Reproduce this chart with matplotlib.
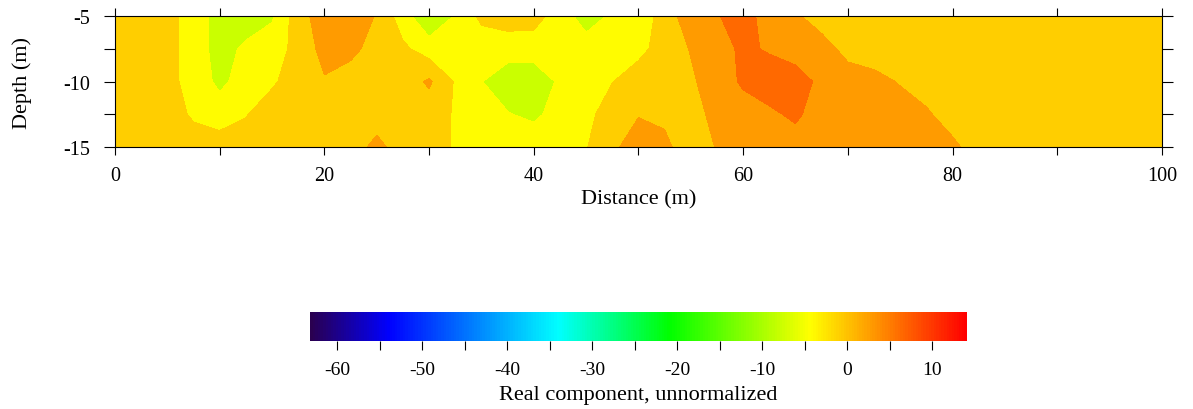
import matplotlib
matplotlib.use("Agg")

import matplotlib.pyplot as plt
import numpy as np
from matplotlib.colors import LinearSegmentedColormap, Normalize
from matplotlib.cm import ScalarMappable
from matplotlib.ticker import MultipleLocator

# grid nodes (m)
distance = np.arange(0, 100.1, 2.5)
depth = [-5, -7.5, -10, -12.5, -15]

# real component on the grid, one row per depth
row_5 = [-0.75, -0.75, -1.3, -4.0, -7.5, -8.0, -6.5, -0.5, 2.9, 2.75,
         0.8, -4.5, -9.0, -5.8, -1.7, -0.75, -1.0, -4.4, -7.5, -5.5,
         -4.0, -1.5, 3.7, 4.2, 6.5, 2.3, 1.5] + [-0.75] * 14
row_7_5 = [-0.75, -0.75, -1.3, -4.0, -7.5, -5.3, -4.0, -1.5, 2.2, 2.0,
           -0.5, -1.8, -4.25, -4.25, -4.5, -4.5, -4.5, -4.5, -4.5, -4.25,
           -3.5, -1.0, 1.2, 3.0, 5.2, 4.1, 3.0, 2.5, -0.2] + [-0.75] * 12
row_10 = [-0.75, -0.75, -1.3, -4.0, -6.8, -4.5, -3.0, -0.75, 0.7, -0.75,
          -0.75, -0.75, 1.5, -2.85, -5.9, -8.0, -8.0, -5.5, -4.25, -2.6,
          -0.75, -0.75, 0.5, 2.75, 5.0, 6.5, 6.0, 3.7, 2.75, 2.0,
          0.75] + [-0.75] * 10
row_12_5 = [-0.75, -0.75, -0.75, -3.05, -4.25, -2.7, -0.75, -0.75, -0.75, -0.75,
            -0.75, -0.75, -0.75, -2.85, -4.25, -5.8, -6.8, -4.5, -3.5, -0.75,
            0.8, 0.3, -0.3, 2.0, 3.0, 3.8, 5.2, 2.5, 2.75, 2.75,
            2.5, 1.5] + [-0.75] * 9
row_15 = [-0.75] * 10 + [2.0, -0.75, -0.75, -2.85, -4.25, -4.0, -3.5, -4.0, -2.7, 0.3,
                         2.75, 1.8, -1.0, 1.2] + [2.75] * 8 + [1.8] + [-0.75] * 8

values = np.array([row_5, row_7_5, row_10, row_12_5, row_15])
levels = [-9.5, -6, -2.5, 1, 4.5, 8.5]

# colour scale
cbar_min, cbar_max = -63.2, 14.1
stop_values = [-63.2, -54, -34, -20.9, -4.3, 14.1]
stop_colors = ["#2a0050", "#0000ff", "#00ffff", "#00ff00", "#ffff00", "#ff0000"]
cbar_ticks = [-60, -50, -40, -30, -20, -10, 0, 10]

plt.rcParams["font.family"] = ["Liberation Serif", "DejaVu Serif"]
plt.rcParams["axes.unicode_minus"] = False

positions = [(v - cbar_min) / (cbar_max - cbar_min) for v in stop_values]
cmap = LinearSegmentedColormap.from_list("surfer", list(zip(positions, stop_colors)))
norm = Normalize(cbar_min, cbar_max)

fig = plt.figure(figsize=(11.93, 4.10), dpi=100)
ax = fig.add_axes([0.0964, 0.639, 0.8776, 0.3195])
ax.contourf(distance, depth, values, levels=levels, cmap=cmap, norm=norm)
ax.set_xlim(0, 100)
ax.set_ylim(-15, -5)
ax.xaxis.set_major_locator(MultipleLocator(20))
ax.xaxis.set_minor_locator(MultipleLocator(10))
ax.yaxis.set_major_locator(MultipleLocator(5))
ax.yaxis.set_minor_locator(MultipleLocator(2.5))
ax.tick_params(axis="x", which="both", direction="out", length=6, width=0.8,
               top=True, labelsize=14.5, pad=8)
ax.tick_params(axis="y", which="both", direction="out", length=8, width=0.8,
               right=True, labelsize=14.5, pad=10)
for s in ax.spines.values():
    s.set_linewidth(0.8)
ax.set_xlabel("Distance (m)", fontsize=16)
ax.set_ylabel("Depth (m)", fontsize=16)
ax.xaxis.set_label_coords(0.5, -0.32)
ax.yaxis.set_label_coords(-0.079, 0.5)

cax = fig.add_axes([0.260, 0.166, 0.5506, 0.0707])
cb = fig.colorbar(ScalarMappable(norm=norm, cmap=cmap), cax=cax,
                  orientation="horizontal", ticks=cbar_ticks)
cb.outline.set_visible(False)
cax.xaxis.set_minor_locator(MultipleLocator(5))
cax.tick_params(which="both", direction="out", length=6.5, width=0.8,
                labelsize=14, pad=8)
cb.set_label("Real component, unnormalized", fontsize=16, labelpad=5)

fig.savefig("out.png", dpi=100)
